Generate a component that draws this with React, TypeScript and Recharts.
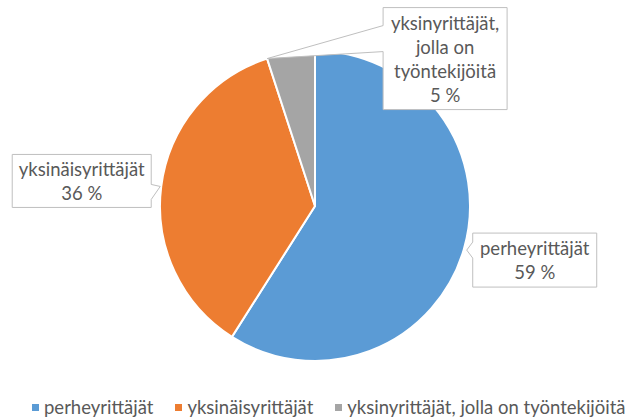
import React from 'react';
import { PieChart, Pie, Cell, Legend } from 'recharts';

const categories = ['perheyrittäjät', 'yksinäisyrittäjät', 'yksinyrittäjät, jolla on työntekijöitä'];
const shares = [59, 36, 5];
// label lines as Excel wraps them inside the callouts
const labelLines = [
  ['perheyrittäjät', '59 %'],
  ['yksinäisyrittäjät', '36 %'],
  ['yksinyrittäjät,', 'jolla on', 'työntekijöitä', '5 %'],
];
const colors = ['#5B9BD5', '#ED7D31', '#A5A5A5'];

const data = categories.map((name, i) => ({ name, value: shares[i] }));

const RAD = Math.PI / 180;
const FONT = 'Lato, "Open Sans", sans-serif';
const TEXT = '#595959';
const BORDER = '#BFBFBF';

// callout placement relative to the tip point (style only)
const callouts = [
  { angleShift: 0, rExtra: 3, side: 'left', dx: 6, dy: -17, w: 124, h: 54, n0: -8, n1: 8 },
  { angleShift: 0, rExtra: 1, side: 'right', dx: -9, dy: -32, w: 139, h: 53, n0: -2, n1: 13 },
  { angleShift: 9, rExtra: 0, side: 'left', dx: 116, dy: -51, w: 124, h: 102, n0: -33, n1: -7 },
];

const renderLabel = (props: any) => {
  const { cx, cy, midAngle, outerRadius, index } = props;
  const c = callouts[index];
  const a = (midAngle + c.angleShift) * RAD;
  const tx = cx + (outerRadius + c.rExtra) * Math.cos(-a);
  const ty = cy + (outerRadius + c.rExtra) * Math.sin(-a);
  let d = '';
  let left = 0;
  const top = ty + c.dy;
  if (c.side === 'left') {
    left = tx + c.dx;
    const r = left + c.w;
    const b = top + c.h;
    d = `M${left},${top} L${r},${top} L${r},${b} L${left},${b} L${left},${ty + c.n1} L${tx},${ty} L${left},${ty + c.n0} Z`;
  } else {
    const r = tx + c.dx;
    left = r - c.w;
    const b = top + c.h;
    d = `M${left},${top} L${r},${top} L${r},${ty + c.n0} L${tx},${ty} L${r},${ty + c.n1} L${r},${b} L${left},${b} Z`;
  }
  const lines = labelLines[index];
  const midX = left + c.w / 2;
  const midY = top + c.h / 2;
  const step = 24;
  return (
    <g key={`lbl-${index}`}>
      <path d={d} fill="#FFFFFF" stroke={BORDER} strokeWidth={1} />
      {lines.map((t, i) => (
        <text
          key={i}
          x={midX}
          y={midY + (i - (lines.length - 1) / 2) * step}
          textAnchor="middle"
          dominantBaseline="central"
          fill={TEXT}
          fontSize={18.5}
          fontFamily={FONT}
        >
          {t}
        </text>
      ))}
    </g>
  );
};

const renderLegend = () => (
  <div
    style={{
      display: 'flex',
      alignItems: 'center',
      height: 22,
      paddingLeft: 32,
      fontFamily: FONT,
      fontSize: 18.5,
      color: TEXT,
      whiteSpace: 'nowrap',
    }}
  >
    {categories.map((name, i) => (
      <div key={name} style={{ display: 'flex', alignItems: 'center', marginRight: 22, flexShrink: 0 }}>
        <span style={{ width: 7, height: 7, background: colors[i], marginRight: 5, display: 'inline-block' }} />
        <span>{name}</span>
      </div>
    ))}
  </div>
);

export default function App() {
  return (
    <div style={{ position: 'absolute', left: 0, top: 0, background: '#FFFFFF' }}>
      <PieChart width={634} height={418} margin={{ top: 0, right: 0, bottom: 0, left: 0 }}>
        <Pie
          data={data}
          dataKey="value"
          nameKey="name"
          cx={315}
          cy={206}
          outerRadius={155}
          startAngle={90}
          endAngle={-270}
          stroke="#FFFFFF"
          strokeWidth={2}
          label={renderLabel}
          labelLine={false}
          isAnimationActive={false}
        >
          {data.map((d, i) => (
            <Cell key={d.name} fill={colors[i]} />
          ))}
        </Pie>
        <Legend
          content={renderLegend}
          wrapperStyle={{ position: 'absolute', left: 0, top: 396, width: 634 }}
        />
      </PieChart>
    </div>
  );
}
